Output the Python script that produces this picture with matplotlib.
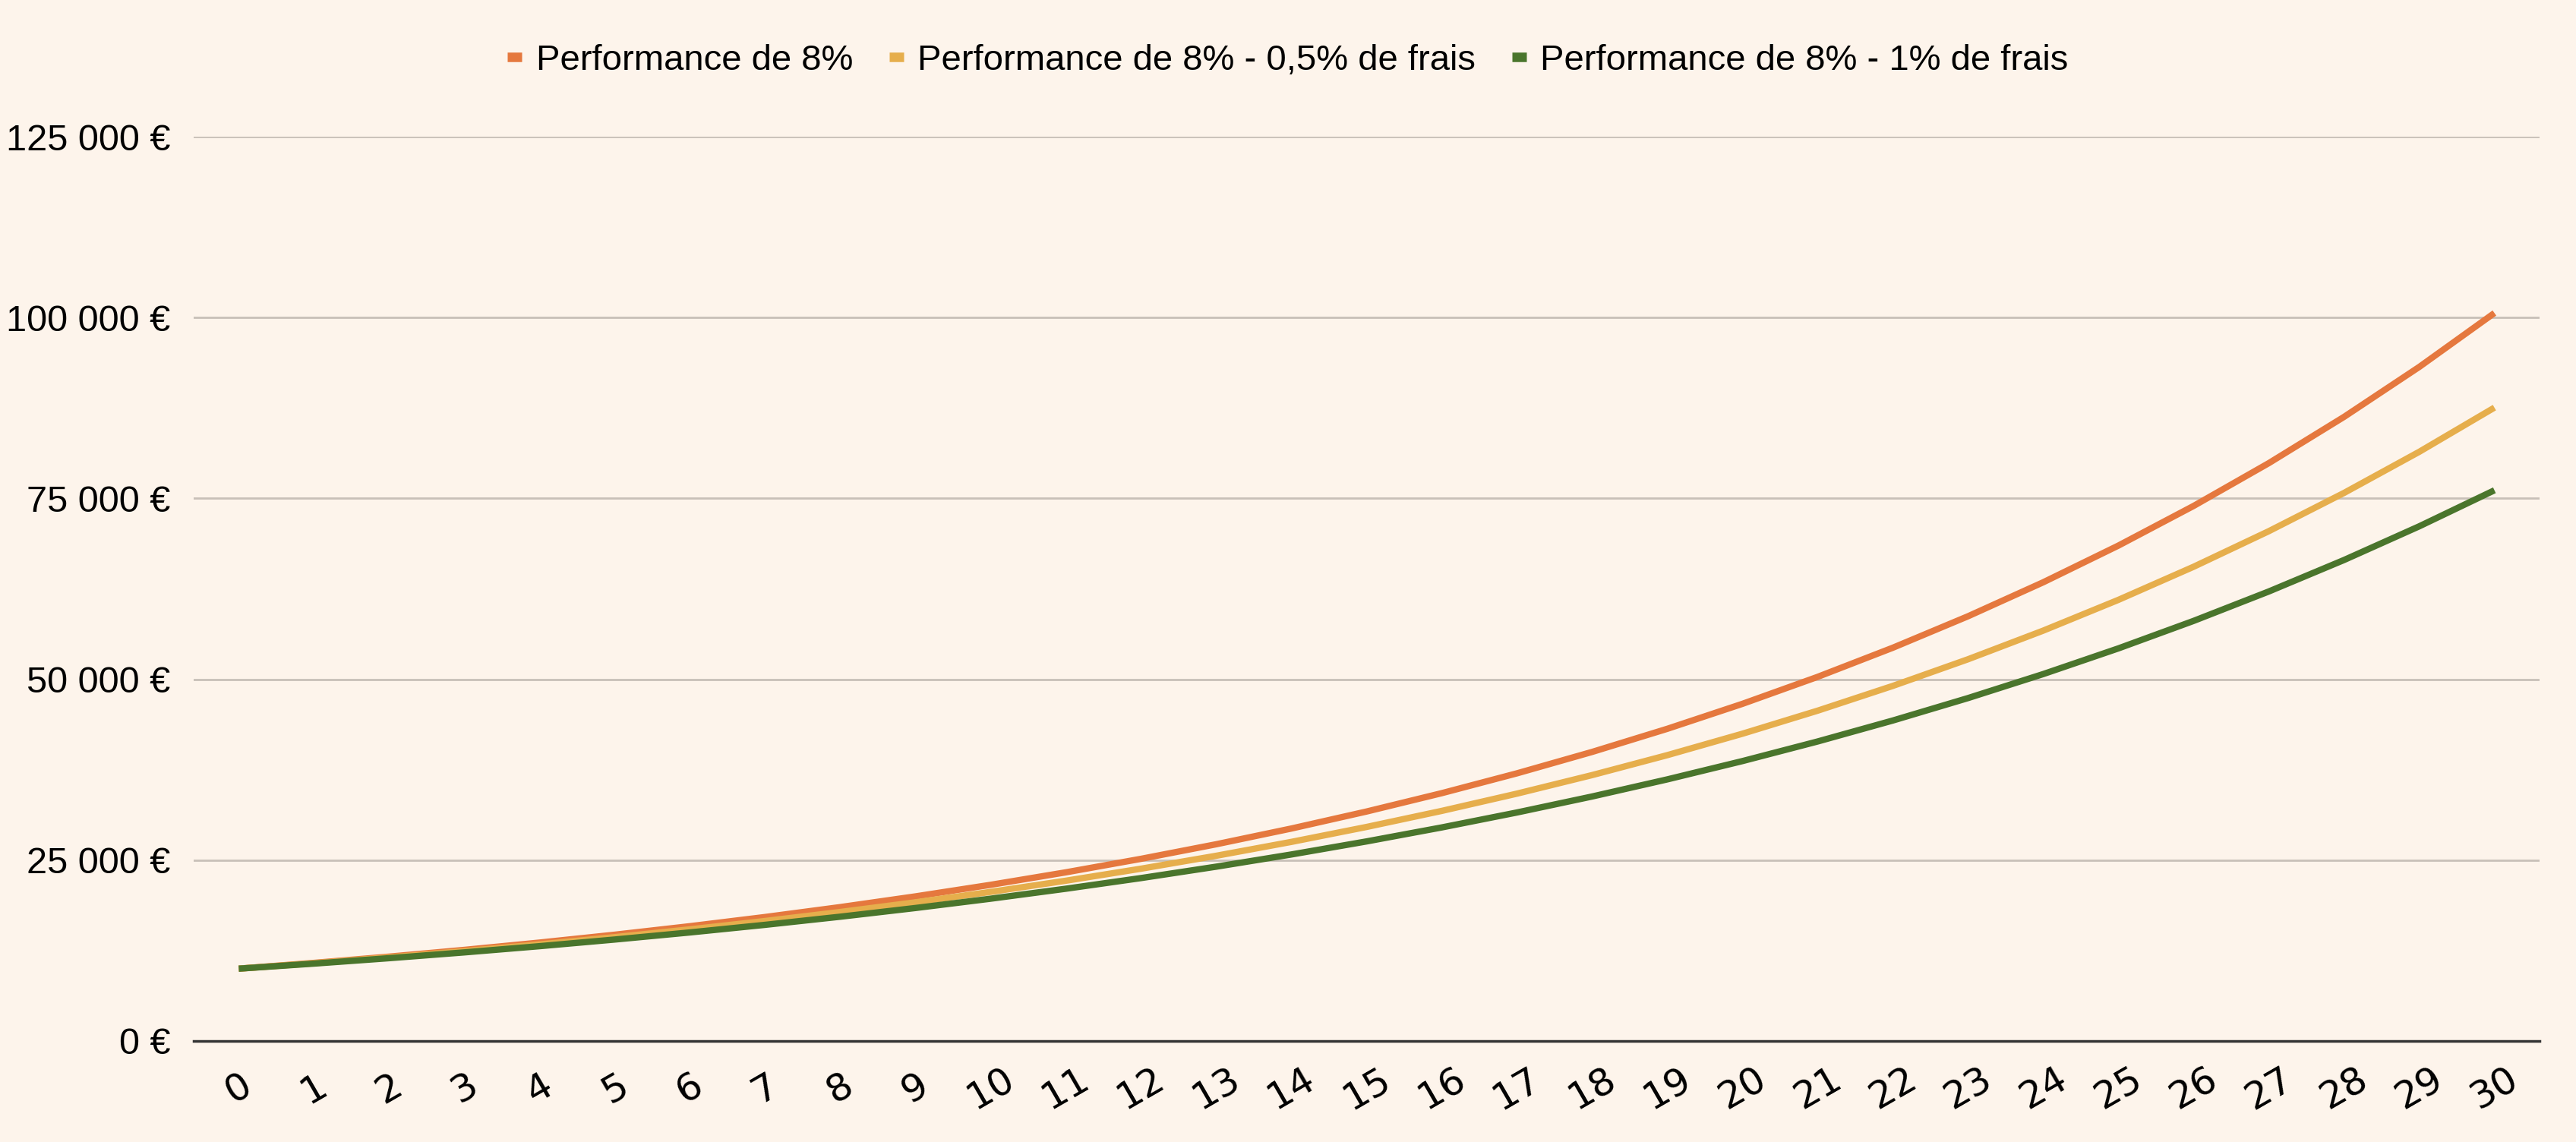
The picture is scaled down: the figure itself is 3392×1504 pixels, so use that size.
import matplotlib
matplotlib.use("Agg")
import matplotlib.pyplot as plt
from matplotlib.ticker import FuncFormatter

years = list(range(0, 31))
perf_8 = [10000, 10800, 11664, 12597, 13605, 14693, 15869, 17138, 18509, 19990,
          21589, 23316, 25182, 27196, 29372, 31722, 34259, 37000, 39960, 43157,
          46610, 50338, 54365, 58715, 63412, 68485, 73964, 79881, 86271, 93173, 100627]
perf_8_05 = [10000, 10750, 11556, 12423, 13355, 14356, 15433, 16590, 17835, 19172,
             20610, 22156, 23818, 25604, 27524, 29589, 31808, 34194, 36758, 39515,
             42479, 45664, 49089, 52771, 56729, 60983, 65557, 70474, 75759, 81441, 87550]
perf_8_1 = [10000, 10700, 11449, 12250, 13108, 14026, 15007, 16058, 17182, 18385,
            19672, 21049, 22522, 24098, 25785, 27590, 29522, 31588, 33799, 36165,
            38697, 41406, 44304, 47405, 50724, 54274, 58074, 62139, 66488, 71143, 76123]
series_labels = ["Performance de 8%", "Performance de 8% - 0,5% de frais",
                 "Performance de 8% - 1% de frais"]
yticks = [0, 25000, 50000, 75000, 100000, 125000]

font = "Liberation Sans"
bg = "#FDF4EB"
colors = ["#E5783E", "#E6AE4C", "#4A752C"]

fig = plt.figure(figsize=(33.92, 15.04), dpi=100, facecolor=bg)
ax = fig.add_axes([255/3392, 1 - 1371/1504, (3344-255)/3392, (1371-180)/1504])
ax.set_facecolor(bg)

for vals, c, lab in zip([perf_8, perf_8_05, perf_8_1], colors, series_labels):
    ax.plot(years, vals, color=c, lw=6, label=lab, solid_capstyle="butt")

ax.set_xlim(-0.6, 30.6)
ax.set_ylim(0, 125000)
ax.set_yticks(yticks)
ax.yaxis.set_major_formatter(FuncFormatter(lambda v, p: (f"{int(v):,}".replace(",", " ") + " €")))
ax.set_xticks(years)
ax.set_xticklabels([str(y) for y in years], rotation=30, ha="center", va="center",
                   fontsize=36, family="DejaVu Sans")
ax.tick_params(axis="x", pad=45)
ax.grid(axis="y", color="#C8C0B8", lw=2)
ax.set_axisbelow(True)
for s in ["top", "right", "left"]:
    ax.spines[s].set_visible(False)
ax.spines["bottom"].set_color("#333333")
ax.spines["bottom"].set_linewidth(2.5)
ax.tick_params(axis="both", length=0)
ax.tick_params(axis="y", pad=22)
for lbl in ax.get_yticklabels():
    lbl.set_fontsize(35)
    lbl.set_family(font)

leg = fig.legend(loc="center", bbox_to_anchor=(0.5, 1 - 80/1504), ncol=3, frameon=False,
                 prop={"family": font, "size": 34}, handlelength=0.4, handletextpad=0.4,
                 columnspacing=1.0)
for h in leg.get_lines():
    h.set_linewidth(9)

fig.savefig("out.png", dpi=100, facecolor=bg)
